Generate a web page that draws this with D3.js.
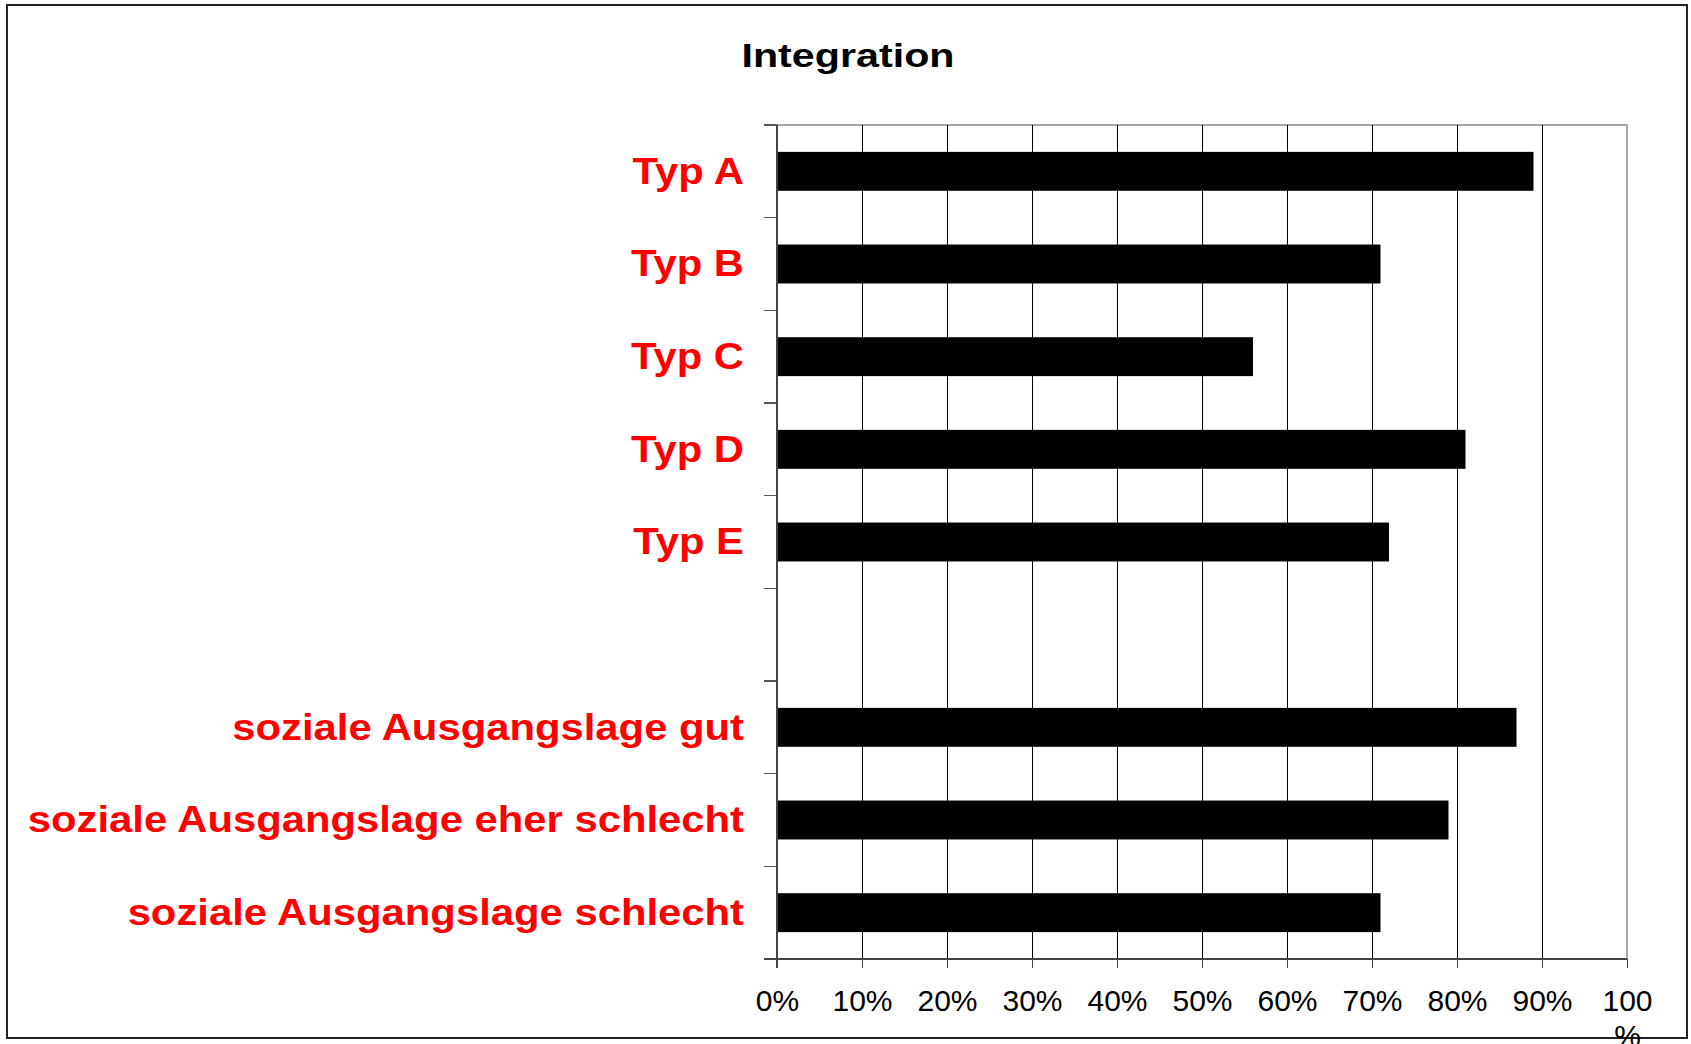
<!DOCTYPE html>
<html>
<head>
<meta charset="utf-8">
<script src="https://cdn.jsdelivr.net/npm/d3@7"></script>
<style>
  html, body { margin: 0; padding: 0; background: #fff; }
  svg { display: block; }
  line { shape-rendering: crispEdges; }
</style>
</head>
<body>
<svg id="chart" width="1691" height="1044"></svg>
<script>
// ---- data ----
const chartTitle = "Integration";
const categories = ["Typ A", "Typ B", "Typ C", "Typ D", "Typ E", "",
  "soziale Ausgangslage gut", "soziale Ausgangslage eher schlecht", "soziale Ausgangslage schlecht"];
const values = [89, 71, 56, 81, 72, null, 87, 79, 71];
const tickValues = [0, 10, 20, 30, 40, 50, 60, 70, 80, 90, 100];
const tickLabels = ["0%", "10%", "20%", "30%", "40%", "50%", "60%", "70%", "80%", "90%", "100%"];

// ---- layout ----
const W = 1691, H = 1044;
const plot = { left: 777, right: 1627, top: 125, bottom: 959 };
const svg = d3.select("#chart");

// outer frame
svg.append("rect")
  .attr("x", 7).attr("y", 5).attr("width", 1680).attr("height", 1033)
  .attr("fill", "#fff").attr("stroke", "#222").attr("stroke-width", 2);

const x = d3.scaleLinear().domain([0, 100]).range([plot.left, plot.right]);
const y = d3.scaleBand().domain(d3.range(categories.length))
  .range([plot.top, plot.bottom]).paddingInner(0.58).paddingOuter(0.29);

// title
svg.append("text")
  .attr("transform", `translate(848,67) scale(1.25,1)`)
  .attr("text-anchor", "middle")
  .style("font-family", "'Liberation Sans', Arial, sans-serif")
  .style("font-weight", "bold").style("font-size", "33px")
  .attr("fill", "#000")
  .text(chartTitle);

// plot frame
svg.append("rect")
  .attr("x", plot.left).attr("y", plot.top)
  .attr("width", plot.right - plot.left).attr("height", plot.bottom - plot.top)
  .attr("fill", "none").attr("stroke", "#8a8a8a").attr("stroke-width", 1.5);

// vertical gridlines
svg.append("g").selectAll("line")
  .data(tickValues.filter(v => v > 0 && v < 100))
  .join("line")
  .attr("x1", d => x(d)).attr("x2", d => x(d))
  .attr("y1", plot.top).attr("y2", plot.bottom)
  .attr("stroke", "#000").attr("stroke-width", 1);

// bars
svg.append("g").selectAll("rect")
  .data(values.map((v, i) => ({ v, i })).filter(d => d.v !== null))
  .join("rect")
  .attr("x", x(0))
  .attr("y", d => y(d.i))
  .attr("width", d => x(d.v) - x(0))
  .attr("height", y.bandwidth())
  .attr("fill", "#000");

// y axis line + ticks at category boundaries
const step = y.step();
const yAxisG = svg.append("g");
yAxisG.selectAll("line.tk")
  .data(d3.range(categories.length + 1))
  .join("line")
  .attr("class", "tk")
  .attr("x1", plot.left - 13).attr("x2", plot.left)
  .attr("y1", i => plot.top + i * step).attr("y2", i => plot.top + i * step)
  .attr("stroke", "#555").attr("stroke-width", 1.5);
yAxisG.append("line")
  .attr("x1", plot.left).attr("x2", plot.left)
  .attr("y1", plot.top).attr("y2", plot.bottom + 9)
  .attr("stroke", "#444").attr("stroke-width", 2);

// category labels
svg.append("g").selectAll("text")
  .data(categories.map((c, i) => ({ c, i })).filter(d => d.c !== ""))
  .join("text")
  .attr("transform", d => `translate(744,${y(d.i) + y.bandwidth() / 2}) scale(1.13,1)`)
  .attr("dy", "0.33em")
  .attr("text-anchor", "end")
  .style("font-family", "'Liberation Sans', Arial, sans-serif")
  .style("font-weight", "bold").style("font-size", "37px")
  .attr("fill", "#ff0000")
  .text(d => d.c);

// x axis
const xAxis = d3.axisBottom(x)
  .tickValues(tickValues)
  .tickFormat((d, i) => tickLabels[i])
  .tickSize(9).tickSizeOuter(0).tickPadding(22);
const xg = svg.append("g")
  .attr("transform", `translate(0,${plot.bottom})`)
  .call(xAxis);
xg.select(".domain").attr("stroke", "#444").attr("stroke-width", 2)
  .attr("d", `M${plot.left - 13},0H${plot.right}`);
xg.selectAll(".tick line").attr("stroke", "#444").attr("stroke-width", 1.5);
xg.selectAll(".tick text")
  .style("font-family", "'Liberation Sans', Arial, sans-serif")
  .style("font-size", "30px")
  .attr("fill", "#000")
  .each(function (d, i) {
    const lab = tickLabels[i];
    // the widest label wraps its "%" onto a second line, as in the source
    if (lab.length > 3) {
      const t = d3.select(this);
      const yy = t.attr("y");
      t.text(null);
      t.append("tspan").attr("x", 0).attr("y", yy).attr("dy", "0.71em").text(lab.slice(0, -1));
      t.append("tspan").attr("x", 0).attr("y", yy).attr("dy", "1.85em").text(lab.slice(-1));
    }
  });
</script>
</body>
</html>
